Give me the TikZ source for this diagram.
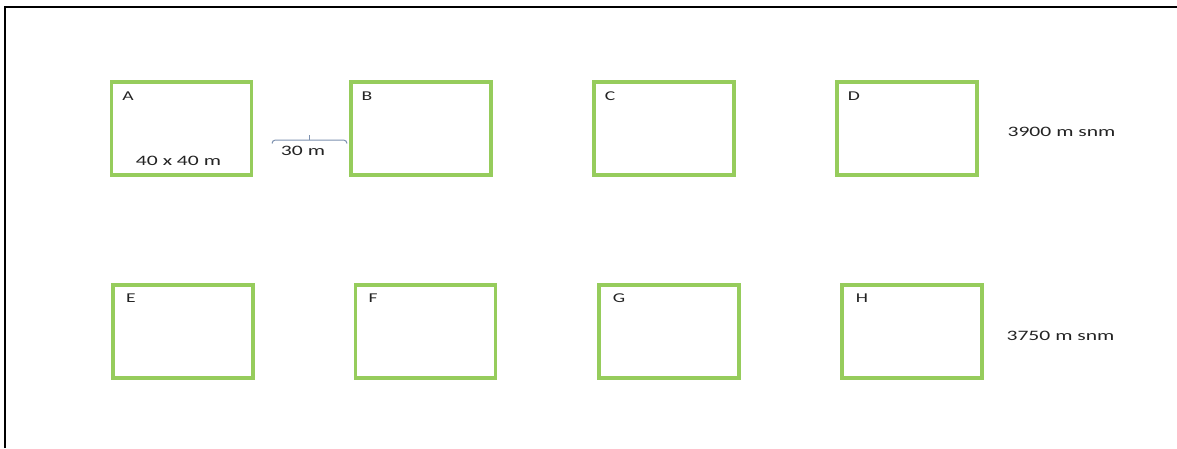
\documentclass[tikz,border=0pt]{standalone}
\usepackage{fontspec}
\setmainfont{Carlito}
\usetikzlibrary{calc}
\definecolor{plotgreen}{RGB}{150,204,92}
\definecolor{brackgray}{RGB}{125,145,175}
\definecolor{txtgray}{RGB}{35,35,35}
\begin{document}
\begin{tikzpicture}[x=1pt,y=1pt,
  plot/.style={draw=plotgreen,line width=3.2pt,minimum width=140pt,minimum height=93pt,inner sep=0pt,outer sep=0pt},
  lbl/.style={font=\fontsize{13.5}{13.5}\selectfont,text=txtgray,xscale=1.45,inner sep=0pt},
  txt/.style={font=\fontsize{14.4}{14.4}\selectfont,text=txtgray,xscale=1.5,inner sep=0pt},
  brack/.style={draw=brackgray,line width=1pt}]
\useasboundingbox (0,0) rectangle (1177,448);
% frame
\coordinate (fb) at (5,0);
\coordinate (fc) at (5,441);
\coordinate (fr) at (1177,441);
\draw[line width=2.2pt] (fb) -- (fc) -- (fr);
% plots
\node[plot] (A) at (181.5,319.5) {};
\node[plot] (B) at (421,319.5) {};
\node[plot] (C) at (664,319.5) {};
\node[plot] (D) at (907,319.5) {};
\node[plot] (E) at (183,116.5) {};
\node[plot] (F) at (425.5,116.5) {};
\node[plot] (G) at (669,116.5) {};
\node[plot] (H) at (912,116.5) {};
% letters
\node[lbl] (lA) at (128,352) {A};
\node[lbl] (lB) at (367,352) {B};
\node[lbl] (lC) at (610,352) {C};
\node[lbl] (lD) at (854,352) {D};
\node[lbl] (lE) at (131,150) {E};
\node[lbl] (lF) at (373,150) {F};
\node[lbl] (lG) at (619,150) {G};
\node[lbl] (lH) at (862,150) {H};
% texts
\node[txt] (size) at (178.5,287.3) {40 x 40 m};
\node[txt] (dist) at (303,297) {30 m};
\node[txt] (alt1) at (1061.5,316.3) {3900 m snm};
\node[txt] (alt2) at (1060.5,112.3) {3750 m snm};
% bracket
\coordinate (bl) at (272,304.5);
\coordinate (br) at (347,304.5);
\coordinate (bm) at (309.5,308);
\coordinate (bt) at (309.5,313);
\draw[brack] (bl) to[out=90,in=180] ($(bl)+(3.5,3.5)$) -- ($(br)+(-3.5,3.5)$) to[out=0,in=90] (br);
\draw[brack] (bm) -- (bt);
\end{tikzpicture}
\end{document}
